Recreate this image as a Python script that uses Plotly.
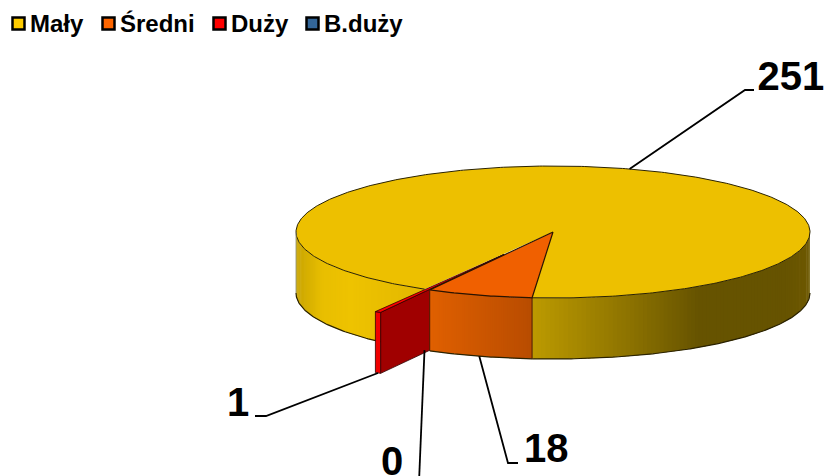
import math
import plotly.graph_objects as go

# ---- data ----
categories = ["Mały", "Średni", "Duży", "B.duży"]
values = [251, 18, 1, 0]
top_colors = ["#EDC000", "#F06000", "#FF0000", "#336699"]
swatch_colors = ["#FFCC00", "#FF6600", "#FF0000", "#336699"]

# ---- pie geometry (projected 3D pie) ----
W, H = 824, 476
CX, CY, RX, RY, DEPTH = 553, 232, 257, 66, 61
FIRST_ANGLE = 210.0 - 360.0
EXPLODE = {"Duży": 0.39}
FONT = "Liberation Sans, Arial, sans-serif"
INK = "#000000"

total = sum(values)
spans = []
a = FIRST_ANGLE
for v in values:
    s = v / total * 360
    spans.append((a, a + s))
    a += s


def hexrgb(h):
    return tuple(int(h[i:i + 2], 16) for i in (1, 3, 5))


def pt(ang, r=1.0, ox=0.0, oy=0.0, dz=0.0):
    t = math.radians(ang)
    return CX + ox + RX * r * math.sin(t), CY + oy - RY * r * math.cos(t) + dz


def lerp_stops(stops, u):
    u = max(stops[0][0], min(stops[-1][0], u))
    for (u0, c0), (u1, c1) in zip(stops, stops[1:]):
        if u0 <= u <= u1:
            k = (u - u0) / (u1 - u0 or 1)
            r0, r1 = hexrgb(c0), hexrgb(c1)
            return "rgb(%d,%d,%d)" % tuple(round(p + (q - p) * k) for p, q in zip(r0, r1))
    return stops[-1][1]


# wall shading as a function of x position across the pie (-1..1)
YELLOW_WALL = [(-1.0, "#C8A400"), (-0.9, "#E8BE00"), (-0.79, "#EEC300"), (-0.5, "#E2B700"),
               (-0.08, "#BC9A00"), (0.3, "#8C7200"), (0.57, "#665300"), (0.9, "#665300"), (1.0, "#6E5900")]
ORANGE_WALL = [(-0.48, "#E06000"), (-0.08, "#B84C00")]

fig = go.Figure()


def poly(xs, ys, fill, line=None, width=0.0):
    fig.add_trace(go.Scatter(
        x=xs, y=ys, mode="lines", fill="toself", fillcolor=fill,
        line=dict(color=line or fill, width=width if line else 0),
        hoverinfo="skip", showlegend=False))


def outline(xs, ys, color="#2a2200", width=1.0):
    fig.add_trace(go.Scatter(x=xs, y=ys, mode="lines", line=dict(color=color, width=width),
                             hoverinfo="skip", showlegend=False))


def wall(a0, a1, stops, step=1.0):
    """Outer rim wall between two angles, only the part facing the viewer."""
    a0, a1 = max(a0, 90), min(a1, 270)
    if a1 <= a0:
        return
    n = max(1, int((a1 - a0) / step))
    # each strip overlaps the next one so that no seams show
    for i in range(n):
        p = a0 + (a1 - a0) * i / n
        q = a0 + (a1 - a0) * (i + 1) / n
        q2 = a1 if i == n - 1 else a0 + (a1 - a0) * (i + 1.6) / n
        xm = [pt(p + (q2 - p) * j / 3) for j in range(4)]
        mid = (pt((p + q) / 2)[0] - CX) / RX
        xs = [m[0] for m in xm] + [m[0] for m in reversed(xm)]
        ys = [m[1] for m in xm] + [m[1] + DEPTH for m in reversed(xm)]
        poly(xs, ys, lerp_stops(stops, mid))


def arc(a0, a1, dz=0.0, n=None):
    n = n or max(2, int(abs(a1 - a0) * 1.5))
    P = [pt(a0 + (a1 - a0) * i / n, dz=dz) for i in range(n + 1)]
    return [p[0] for p in P], [p[1] for p in P]


# --- Mały (yellow): rim wall (both visible parts), then top
y0, y1 = spans[0]
wall(y0 + 360, 270, YELLOW_WALL)          # left of the cut
wall(90, y1, YELLOW_WALL)                 # right of the cut, up to Średni
ax, ay = arc(y0, y1)
poly([CX] + ax + [CX], [CY] + ay + [CY], top_colors[0])
outline(ax, ay)
bx, by = arc(y0 + 360, 270, dz=DEPTH)
outline(bx, by, width=1.2)
bx, by = arc(90, y1, dz=DEPTH)
outline(bx, by, width=1.2)
p = pt(270)
outline([p[0], p[0]], [p[1], p[1] + DEPTH], color="#8a8a70", width=0.8)

# --- Duży (red, pulled out): radial wall, rim, top
r0, r1 = spans[2]
mid_red = (r0 + r1) / 2
e = EXPLODE["Duży"]
ox, oy = pt(mid_red, e)[0] - CX, pt(mid_red, e)[1] - CY
ax_, ay_ = CX + ox, CY + oy
rx0, ry0 = pt(r0, 1.0, ox, oy)
rx1, ry1 = pt(r1, 1.0, ox, oy)
poly([ax_, rx0, rx0, ax_, ax_], [ay_, ry0, ry0 + DEPTH, ay_ + DEPTH, ay_], "#A00000", "#300000", 0.8)
poly([rx0, rx1, rx1, rx0, rx0], [ry0, ry1, ry1 + DEPTH, ry0 + DEPTH, ry0], "#F00000", "#300000", 0.8)
poly([ax_, rx0, rx1, ax_], [ay_, ry0, ry1, ay_], "#FF0000", "#300000", 0.8)

# --- Średni (orange): rim wall, then top
o0, o1 = spans[1]
wall(o0, o1, ORANGE_WALL, step=0.5)
ox_, oy_ = arc(o0, o1)
poly([CX] + ox_ + [CX], [CY] + oy_ + [CY], top_colors[1], "#2a1400", 1.2)
bx, by = arc(o0, o1, dz=DEPTH)
outline(bx, by, width=1.2)
for ang in (o0, o1):
    p = pt(ang)
    outline([p[0], p[0]], [p[1], p[1] + DEPTH], color="#4a1c00", width=1.0)

# --- leader lines, anchored on each slice's mid-angle
mids = [((s + e_) / 2) for s, e_ in spans]
m_y = pt(mids[0])
m_o = pt(mids[1], dz=DEPTH)
m_d = (rx0 + rx1) / 2, (ry0 + ry1) / 2 + DEPTH
m_b = pt(mids[3], dz=DEPTH)
leaders = [
    ([m_y[0], 745, 754], [m_y[1], 90, 90]),
    ([m_o[0], 508, 518], [m_o[1], 463, 463]),
    ([m_d[0], 266, 255], [m_d[1], 416, 416]),
    ([m_b[0], 419], [m_b[1], 482]),
]
for lx, ly in leaders:
    outline(lx, ly, color=INK, width=1.8)

# --- value labels
label_pos = [(757.5, 80, "middle right"), (524, 452, "middle right"),
             (227, 406, "middle right"), (392, 465, "middle center")]
for v, (lx, ly, tp) in zip(values, label_pos):
    fig.add_trace(go.Scatter(
        x=[lx], y=[ly], mode="text", text=[str(v)], textposition=tp,
        textfont=dict(family=FONT, size=40, color=INK, weight="bold"),
        hoverinfo="skip", showlegend=False))

# --- legend row
swatch_x = [18.5, 108.5, 219.5, 312.5]
text_x = [30, 120, 231, 324]
for name, col, sx, tx in zip(categories, swatch_colors, swatch_x, text_x):
    fig.add_trace(go.Scatter(
        x=[sx], y=[23.5], mode="markers",
        marker=dict(symbol="square", size=12, color=col, line=dict(color=INK, width=2.5)),
        hoverinfo="skip", showlegend=False))
    fig.add_trace(go.Scatter(
        x=[tx], y=[26], mode="text", text=[name], textposition="middle right",
        textfont=dict(family=FONT, size=24, color=INK, weight="bold"),
        hoverinfo="skip", showlegend=False))

fig.update_layout(
    width=W, height=H, autosize=False,
    margin=dict(l=0, r=0, t=0, b=0),
    paper_bgcolor="white", plot_bgcolor="white",
    showlegend=False,
    xaxis=dict(range=[0, W], visible=False, fixedrange=True),
    yaxis=dict(range=[H, 0], visible=False, fixedrange=True),
)
fig.write_html("out.html", config={"displayModeBar": False},
               post_script="document.body.style.margin='0';document.body.style.overflow='hidden';")
